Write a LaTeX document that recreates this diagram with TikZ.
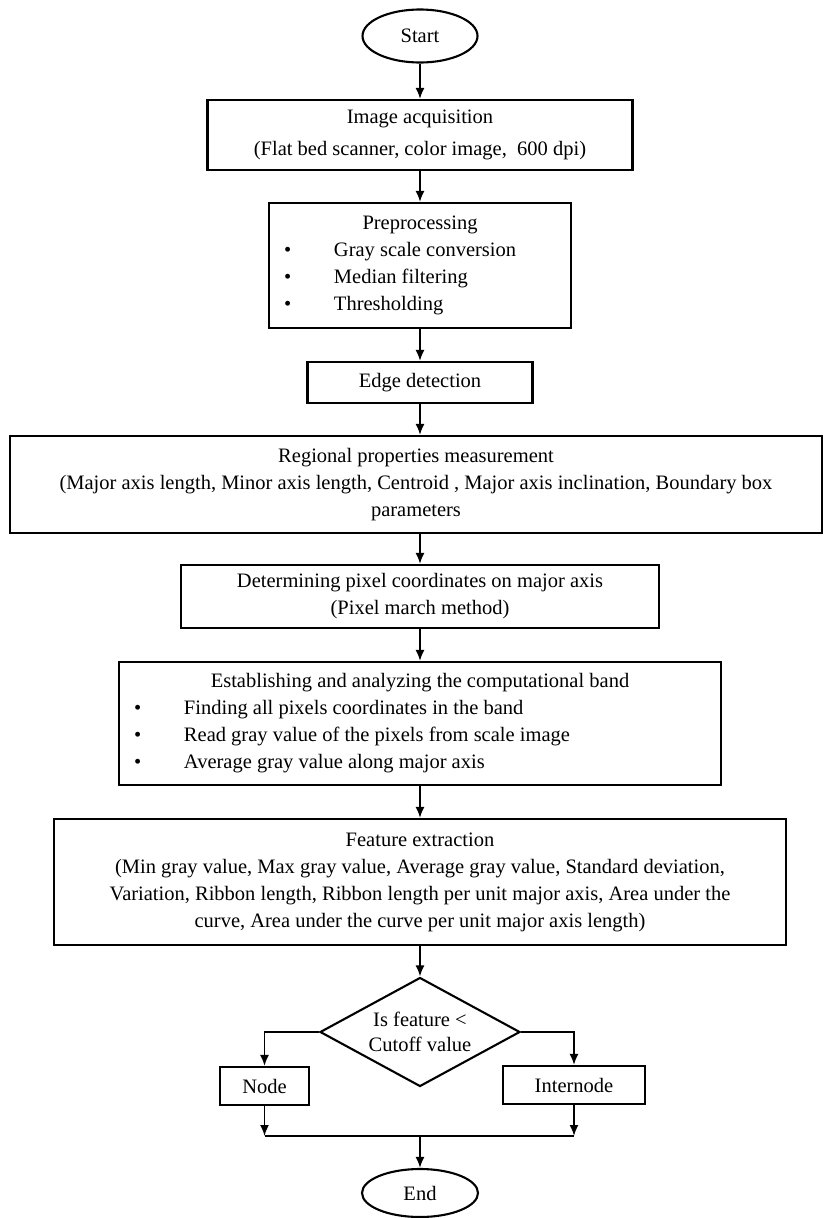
\documentclass[tikz,border=0pt]{standalone}
\usepackage{fontspec}
\setmainfont{Liberation Serif}
\usetikzlibrary{shapes.geometric,arrows.meta}
\newcommand{\bulletline}[1]{\hspace*{15pt}\makebox[50pt][l]{\textbullet}#1}
\begin{document}
\begin{tikzpicture}[x=1pt,y=-1pt,
  every node/.style={font=\fontsize{20.5}{27}\selectfont},
  box/.style={draw,line width=2.1pt,inner sep=0pt,align=center},
  term/.style={draw,ellipse,line width=2.1pt,inner sep=0pt},
  cond/.style={draw,diamond,aspect=1.83,inner sep=0pt,line width=2.1pt,align=center},
  arrow/.style={line width=1.8pt,-{Latex[length=11pt,width=9pt]}}]
\useasboundingbox (0,0) rectangle (824,1218);

% Terminals and process steps
\node[term,minimum width=115pt,minimum height=53pt] (start) at (420,36) {Start};
\node[box,minimum width=425pt,minimum height=70pt] (acq) at (420,135)
  {Image acquisition\\[5pt](Flat bed scanner, color image,\ \ 600 dpi)};
\node[box,minimum width=302pt,minimum height=125pt] (prep) at (420,265.5)
  {\parbox{302pt}{\centering Preprocessing\par\raggedright
   \bulletline{Gray scale conversion}\\
   \bulletline{Median filtering}\\
   \bulletline{Thresholding}}};
\node[box,minimum width=225pt,minimum height=41pt] (edge) at (420,382.5) {Edge detection};
\node[box,minimum width=812pt,minimum height=97pt] (region) at (416,484.5)
  {Regional properties measurement\\
   (Major axis length, Minor axis length, Centroid , Major axis inclination, Boundary box\\
   parameters};
\node[box,minimum width=478pt,minimum height=63pt] (march) at (420,596.5)
  {Determining pixel coordinates on major axis\\(Pixel march method)};
\node[box,minimum width=602pt,minimum height=123pt] (band) at (420,723.5)
  {\parbox{602pt}{\centering Establishing and analyzing the computational band\par\raggedright
   \bulletline{Finding all pixels coordinates in the band}\\
   \bulletline{Read gray value of the pixels from scale image}\\
   \bulletline{Average gray value along major axis}}};
\node[box,minimum width=732pt,minimum height=126pt] (feat) at (420,882)
  {Feature extraction\\
   (Min gray value, Max gray value, Average gray value, Standard deviation,\\
   Variation, Ribbon length, Ribbon length per unit major axis, Area under the\\
   curve, Area under the curve per unit major axis length)};

% Decision and outcomes
\node[cond,minimum width=200pt,minimum height=109pt,font=\fontsize{20.5}{25}\selectfont]
  (cutoff) at (420,1032) {Is feature <\\Cutoff value};
\node[box,minimum width=89pt,minimum height=38pt] (nodebox) at (264.5,1086) {Node};
\node[box,minimum width=142pt,minimum height=38pt] (internode) at (574,1085) {Internode};
\node[term,minimum width=116pt,minimum height=48pt] (finish) at (420,1193) {End};
\coordinate (merge) at (420,1136);

% Connectors
\draw[arrow] (start) -- (acq);
\draw[arrow] (acq) -- (prep);
\draw[arrow] (prep) -- (edge);
\draw[arrow] (edge.south) -- (edge.south |- region.north);
\draw[arrow] (region.south -| march.north) -- (march.north);
\draw[arrow] (march) -- (band);
\draw[arrow] (band) -- (feat);
\draw[arrow] (feat) -- (cutoff);
\draw[arrow] (cutoff.west) -| (nodebox.north);
\draw[arrow] (cutoff.east) -| (internode.north);
\draw[arrow] (nodebox.south) -- (nodebox.south |- merge);
\draw[arrow] (internode.south) -- (internode.south |- merge);
\draw[line width=1.8pt] (nodebox.south |- merge) -- (internode.south |- merge);
\draw[arrow] (merge) -- (finish);
\end{tikzpicture}
\end{document}
